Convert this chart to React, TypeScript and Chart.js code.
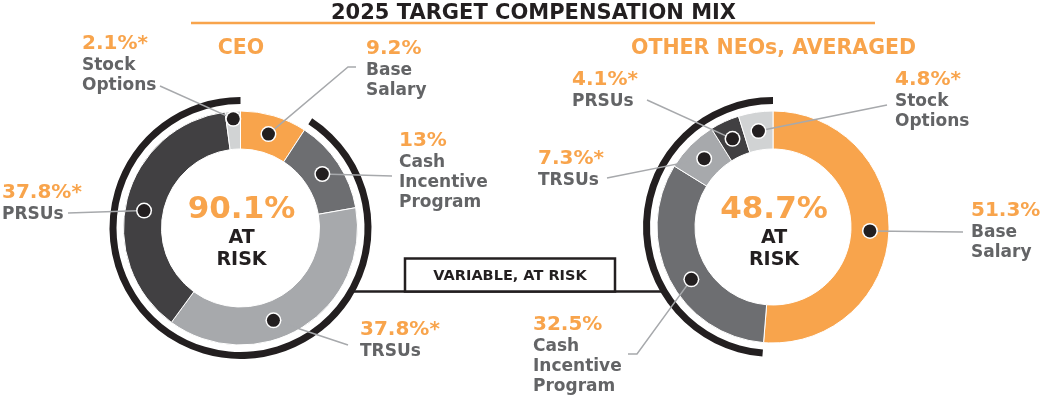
import React, { useEffect, useRef } from "react";
import { Chart, registerables } from "chart.js";

Chart.register(...registerables);

// ---------- data ----------
const categories = ["Base Salary", "Cash Incentive Program", "TRSUs", "PRSUs", "Stock Options"];
const categoryLines = [["Base", "Salary"], ["Cash", "Incentive", "Program"], ["TRSUs"], ["PRSUs"], ["Stock", "Options"]];
const ceoValues = [9.2, 13, 37.8, 37.8, 2.1];
const neoValues = [51.3, 32.5, 7.3, 4.1, 4.8];
const ceoValueLabels = ["9.2%", "13%", "37.8%*", "37.8%*", "2.1%*"];
const neoValueLabels = ["51.3%", "32.5%", "7.3%*", "4.1%*", "4.8%*"];
const ceoAtRisk = "90.1%";
const neoAtRisk = "48.7%";
const atRiskLines = ["AT", "RISK"];
const chartTitle = "2025 TARGET COMPENSATION MIX";
const groupTitles = ["CEO", "OTHER NEOs, AVERAGED"];
const bridgeLabel = "VARIABLE, AT RISK";

// ---------- styles ----------
const ORANGE = "#F8A44C";
const BLACK = "#231F20";
const GREY_TEXT = "#636466";
const LEADER = "#A7A9AC";
const sliceColors = [ORANGE, "#6D6E71", "#A7A9AC", "#414042", "#D1D3D4"];
const FONT = "'DejaVu Sans', Verdana, sans-serif";

// label placement; af = angular fraction of the dot inside its slice, rf = radial fraction
type LabelPos = { x: number; y: number; leader: number[][]; af?: number; rf?: number };

const ceoLayout: LabelPos[] = [
  { x: 366, y: 54, leader: [[348, 67], [356, 67]] },
  { x: 399, y: 146, leader: [[392, 176]] },
  { x: 360, y: 335, leader: [[348, 345]], af: 0.59 },
  { x: 2, y: 198, leader: [[68, 213]], af: 0.47 },
  { x: 82, y: 49, leader: [[160, 86]], rf: 0.8 },
];
const neoLayout: LabelPos[] = [
  { x: 971, y: 216, leader: [[963, 232]] },
  { x: 533, y: 330, leader: [[637, 354], [628, 354]], af: 0.45 },
  { x: 538, y: 164, leader: [[607, 178]] },
  { x: 572, y: 85, leader: [[647, 100]] },
  { x: 895, y: 85, leader: [[887, 105]] },
];

type Cfg = {
  values: number[];
  valueLabels: string[];
  atRisk: string;
  title: string;
  cx: number;
  cy: number;
  outer: number;
  inner: number;
  layout: LabelPos[];
  shared: boolean;
};

function drawShared(ctx: CanvasRenderingContext2D) {
  ctx.save();
  ctx.fillStyle = BLACK;
  ctx.font = `bold 21px ${FONT}`;
  ctx.textAlign = "center";
  ctx.textBaseline = "alphabetic";
  ctx.fillText(chartTitle, 533.5, 18.5);
  ctx.strokeStyle = ORANGE;
  ctx.lineWidth = 2.5;
  ctx.beginPath();
  ctx.moveTo(191, 23);
  ctx.lineTo(875, 23);
  ctx.stroke();
  // bridge box
  ctx.strokeStyle = BLACK;
  ctx.lineWidth = 2.5;
  ctx.beginPath();
  ctx.moveTo(350, 291.5);
  ctx.lineTo(662, 291.5);
  ctx.stroke();
  ctx.fillStyle = "#fff";
  ctx.fillRect(405, 258.5, 210, 33);
  ctx.strokeRect(405, 258.5, 210, 33);
  ctx.fillStyle = BLACK;
  ctx.font = `bold 14.5px ${FONT}`;
  ctx.fillText(bridgeLabel, 510, 280);
  ctx.restore();
}

function dotPos(arc: any, pos: LabelPos) {
  const p = arc.getProps(["x", "y", "startAngle", "endAngle", "innerRadius", "outerRadius"], true);
  const af = pos.af ?? 0.5;
  const rf = pos.rf ?? 0.5;
  const a = p.startAngle + af * (p.endAngle - p.startAngle);
  const r = p.innerRadius + rf * (p.outerRadius - p.innerRadius);
  return { x: p.x + Math.cos(a) * r, y: p.y + Math.sin(a) * r };
}

function makeChart(canvas: HTMLCanvasElement, cfg: Cfg) {
  const W = 1041, H = 396;
  const ringW = 7, gapW = 7;
  const donutW = cfg.outer - cfg.inner - ringW - gapW;
  const half = Math.min(cfg.cx, W - cfg.cx, cfg.cy, H - cfg.cy);
  const padding = {
    left: cfg.cx - half,
    right: W - cfg.cx - half,
    top: cfg.cy - half,
    bottom: H - cfg.cy - half,
  };
  const rest = cfg.values.slice(1).reduce((a, b) => a + b, 0);
  const plugin = {
    id: "annot_" + cfg.title.length,
    beforeDatasetsDraw(chart: any) {
      if (cfg.shared) drawShared(chart.ctx);
    },
    afterDatasetsDraw(chart: any) {
      const ctx: CanvasRenderingContext2D = chart.ctx;
      const meta = chart.getDatasetMeta(2);
      const pts = meta.data.map((arc: any, i: number) => dotPos(arc, cfg.layout[i]));
      ctx.save();
      // leaders
      ctx.strokeStyle = LEADER;
      ctx.lineWidth = 1.5;
      pts.forEach((p: any, i: number) => {
        ctx.beginPath();
        ctx.moveTo(p.x, p.y);
        cfg.layout[i].leader.forEach(([x, y]) => ctx.lineTo(x, y));
        ctx.stroke();
      });
      // dots
      pts.forEach((p: any) => {
        ctx.beginPath();
        ctx.arc(p.x, p.y, 8, 0, Math.PI * 2);
        ctx.fillStyle = "#fff";
        ctx.fill();
        ctx.beginPath();
        ctx.arc(p.x, p.y, 6.5, 0, Math.PI * 2);
        ctx.fillStyle = BLACK;
        ctx.fill();
      });
      // labels
      ctx.textAlign = "left";
      ctx.textBaseline = "alphabetic";
      cfg.layout.forEach((pos, i) => {
        ctx.fillStyle = ORANGE;
        ctx.font = `bold 20px ${FONT}`;
        ctx.fillText(cfg.valueLabels[i], pos.x, pos.y);
        ctx.fillStyle = GREY_TEXT;
        ctx.font = `bold 17px ${FONT}`;
        categoryLines[i].forEach((line, j) => {
          ctx.fillText(line, pos.x, pos.y + 21 + j * 20);
        });
      });
      // group title
      ctx.textAlign = "center";
      ctx.fillStyle = ORANGE;
      ctx.font = `bold 20.5px ${FONT}`;
      ctx.fillText(cfg.title, cfg.cx + 0.5, 54);
      // center text
      ctx.font = `bold 31px ${FONT}`;
      ctx.fillText(cfg.atRisk, cfg.cx + 1, 217.5);
      ctx.fillStyle = BLACK;
      ctx.font = `bold 19px ${FONT}`;
      ctx.fillText(atRiskLines[0], cfg.cx + 1, 243);
      ctx.fillText(atRiskLines[1], cfg.cx + 1, 265);
      ctx.restore();
    },
  };

  return new Chart(canvas, {
    type: "doughnut",
    data: {
      labels: categories,
      datasets: [
        {
          data: [cfg.values[0], rest],
          backgroundColor: ["rgba(0,0,0,0)", BLACK],
          borderWidth: 0,
          weight: ringW,
        } as any,
        {
          data: [1],
          backgroundColor: ["rgba(0,0,0,0)"],
          borderWidth: 0,
          weight: gapW,
        } as any,
        {
          data: cfg.values,
          backgroundColor: sliceColors,
          borderColor: "#ffffff",
          borderWidth: 1,
          weight: donutW,
        } as any,
      ],
    },
    options: {
      responsive: false,
      animation: false,
      events: [],
      radius: cfg.outer,
      cutout: ((cfg.inner / cfg.outer) * 100).toFixed(3) + "%",
      layout: { padding },
      plugins: { legend: { display: false }, tooltip: { enabled: false } },
    } as any,
    plugins: [plugin],
  });
}

export default function App() {
  const ref1 = useRef<HTMLCanvasElement>(null);
  const ref2 = useRef<HTMLCanvasElement>(null);

  useEffect(() => {
    const c1 = makeChart(ref1.current!, {
      values: ceoValues,
      valueLabels: ceoValueLabels,
      atRisk: ceoAtRisk,
      title: groupTitles[0],
      cx: 240.5,
      cy: 228,
      outer: 131,
      inner: 79,
      layout: ceoLayout,
      shared: true,
    });
    const c2 = makeChart(ref2.current!, {
      values: neoValues,
      valueLabels: neoValueLabels,
      atRisk: neoAtRisk,
      title: groupTitles[1],
      cx: 773,
      cy: 227,
      outer: 130,
      inner: 78,
      layout: neoLayout,
      shared: false,
    });
    return () => {
      c1.destroy();
      c2.destroy();
    };
  }, []);

  return (
    <div style={{ position: "absolute", left: 0, top: 0, width: 1041, height: 396, background: "#fff" }}>
      <canvas ref={ref1} width={1041} height={396} style={{ position: "absolute", left: 0, top: 0 }} />
      <canvas ref={ref2} width={1041} height={396} style={{ position: "absolute", left: 0, top: 0 }} />
    </div>
  );
}
